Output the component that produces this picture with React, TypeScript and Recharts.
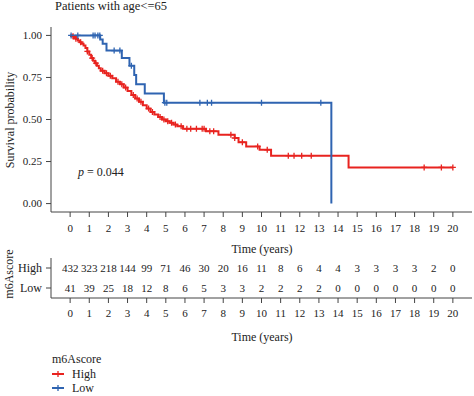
import { ComposedChart, Line, Scatter, XAxis, YAxis } from "recharts";

const RED = "#e8231f";
const BLUE = "#2f64b1";
const AXIS = "#444";
const FONT = "'Liberation Serif', 'DejaVu Serif', serif";

const years = Array.from({ length: 21 }, (_, i) => i);

// High m6Ascore: step points (time in years, survival probability)
const highTimes = [0, 0.1, 0.2, 0.3, 0.4, 0.5, 0.6, 0.7, 0.8, 0.9, 1.0, 1.1, 1.2, 1.3, 1.4, 1.5, 1.6, 1.8, 2.0, 2.2, 2.4, 2.6, 2.8, 3.0, 3.2, 3.4, 3.6, 3.8, 4.0, 4.2, 4.4, 4.6, 4.8, 5.0, 5.2, 5.4, 5.6, 5.9, 7.1, 7.75, 8.6, 8.8, 9.2, 9.9, 10.5, 14.55, 20];
const highSurv = [1.0, 0.995, 0.99, 0.98, 0.97, 0.96, 0.95, 0.94, 0.925, 0.905, 0.885, 0.865, 0.85, 0.835, 0.82, 0.805, 0.79, 0.775, 0.76, 0.745, 0.725, 0.71, 0.69, 0.67, 0.645, 0.625, 0.605, 0.585, 0.565, 0.545, 0.53, 0.515, 0.5, 0.49, 0.48, 0.47, 0.46, 0.445, 0.43, 0.41, 0.39, 0.365, 0.34, 0.32, 0.285, 0.215, 0.215];
const highCensor = [0.15, 0.3, 0.55, 0.9, 1.15, 1.35, 1.7, 1.9, 2.1, 2.5, 2.7, 2.9, 3.3, 3.5, 3.7, 4.1, 4.3, 4.7, 4.9, 5.1, 5.3, 5.5, 5.8, 6.1, 6.3, 6.6, 6.9, 7.0, 7.3, 7.5, 8.4, 8.6, 9.0, 9.8, 10.3, 11.4, 11.7, 12.1, 12.6, 18.5, 19.4, 20.0];

// Low m6Ascore
const lowTimes = [0, 1.57, 1.7, 1.9, 2.7, 3.1, 3.35, 3.45, 3.9, 4.9, 13.65];
const lowSurv = [1.0, 0.975, 0.95, 0.91, 0.865, 0.82, 0.765, 0.71, 0.655, 0.6, 0.0];
const lowCensor = [0.05, 0.4, 1.2, 1.3, 1.45, 1.55, 2.3, 2.6, 3.2, 4.95, 5.05, 6.78, 7.17, 7.39, 10.0, 13.1];

// number at risk
const highRisk = [432, 323, 218, 144, 99, 71, 46, 30, 20, 16, 11, 8, 6, 4, 4, 3, 3, 3, 3, 2, 0];
const lowRisk = [41, 39, 25, 18, 12, 8, 6, 5, 3, 3, 2, 2, 2, 2, 0, 0, 0, 0, 0, 0, 0];

const groups = ["High", "Low"];
const pValue = "0.044";

const toSteps = (times: number[], surv: number[]) => times.map((t, i) => ({ t, s: surv[i] }));

function survAt(times: number[], surv: number[], t: number) {
  let s = surv[0];
  for (let i = 0; i < times.length; i++) {
    if (times[i] <= t) s = surv[i];
  }
  return s;
}

const highData = toSteps(highTimes, highSurv);
const lowData = toSteps(lowTimes, lowSurv);
const highCensorData = highCensor.map((t) => ({ t, s: survAt(highTimes, highSurv, t) }));
const lowCensorData = lowCensor.map((t) => ({ t, s: survAt(lowTimes, lowSurv, t) }));

const riskData = [
  ...years.map((t, i) => ({ t, y: 1.5, n: highRisk[i] })),
  ...years.map((t, i) => ({ t, y: 0.5, n: lowRisk[i] })),
];

function Cross(color: string) {
  return (props: any) => {
    const { cx, cy } = props;
    return (
      <path
        d={`M${cx - 3},${cy}h6M${cx},${cy - 3}v6`}
        stroke={color}
        strokeWidth={1.3}
        fill="none"
      />
    );
  };
}

function RiskText(props: any) {
  const { cx, cy, payload } = props;
  return (
    <text x={cx} y={cy} textAnchor="middle" dominantBaseline="central" fontSize={11} fill="#222">
      {payload.n}
    </text>
  );
}

const tickStyle = { fill: "#222", fontSize: 11, fontFamily: FONT };

export default function App() {
  return (
    <div style={{ position: "absolute", left: 0, top: 0, width: 474, height: 396, background: "#fff", fontFamily: FONT }}>
      <ComposedChart
        width={474}
        height={262}
        margin={{ top: 27, right: 2, bottom: 0, left: 0 }}
        style={{ position: "absolute", left: 0, top: 0 }}
      >
        <XAxis
          type="number"
          dataKey="t"
          domain={[-1, 21]}
          ticks={years}
          interval={0}
          tickSize={5}
          tickMargin={7}
          height={50}
          stroke={AXIS}
          tick={tickStyle}
          allowDataOverflow
        />
        <YAxis
          type="number"
          dataKey="s"
          domain={[-0.05, 1.05]}
          ticks={[0, 0.25, 0.5, 0.75, 1]}
          tickFormatter={(v) => Number(v).toFixed(2)}
          width={51}
          tickSize={5}
          tickMargin={4}
          stroke={AXIS}
          tick={tickStyle}
          allowDataOverflow
        />
        <Line data={highData} dataKey="s" type="stepAfter" stroke={RED} strokeWidth={2} dot={false} isAnimationActive={false} />
        <Line data={lowData} dataKey="s" type="stepAfter" stroke={BLUE} strokeWidth={2} dot={false} isAnimationActive={false} />
        <Scatter data={highCensorData} dataKey="s" shape={Cross(RED)} isAnimationActive={false} />
        <Scatter data={lowCensorData} dataKey="s" shape={Cross(BLUE)} isAnimationActive={false} />
      </ComposedChart>

      <ComposedChart
        width={474}
        height={100}
        margin={{ top: 8, right: 2, bottom: 0, left: 0 }}
        style={{ position: "absolute", left: 0, top: 250 }}
      >
        <XAxis
          type="number"
          dataKey="t"
          domain={[-1, 21]}
          ticks={years}
          interval={0}
          tickSize={5}
          tickMargin={6}
          height={52}
          stroke={AXIS}
          tick={tickStyle}
        />
        <YAxis
          type="number"
          dataKey="y"
          domain={[0, 2]}
          ticks={[0.5, 1.5]}
          tickFormatter={(v) => (v > 1 ? groups[0] : groups[1])}
          width={51}
          tickSize={5}
          tickMargin={4}
          stroke={AXIS}
          tick={{ ...tickStyle, fontSize: 12 }}
        />
        <Scatter data={riskData} dataKey="y" shape={RiskText} isAnimationActive={false} />
      </ComposedChart>

      <svg width={474} height={396} style={{ position: "absolute", left: 0, top: 0, pointerEvents: "none" }}>
        <text x={55} y={10} fontSize={12.5} fill="#222">Patients with age&lt;=65</text>
        <text transform="translate(10,120) rotate(-90)" textAnchor="middle" dominantBaseline="central" fontSize={12} fill="#222">
          Survival probability
        </text>
        <text transform="translate(9,274) rotate(-90)" textAnchor="middle" dominantBaseline="central" fontSize={12} fill="#222">
          m6Ascore
        </text>
        <text x={262} y={249} textAnchor="middle" dominantBaseline="central" fontSize={12} fill="#222">Time (years)</text>
        <text x={262} y={337} textAnchor="middle" dominantBaseline="central" fontSize={12} fill="#222">Time (years)</text>
        <text x={78} y={176} fontSize={12} fill="#222">
          <tspan fontStyle="italic">p</tspan> = {pValue}
        </text>
        <text x={52} y={363} fontSize={12} fill="#222">m6Ascore</text>
        {groups.map((g, i) => {
          const y = 374 + i * 14;
          const c = i === 0 ? RED : BLUE;
          return (
            <g key={g}>
              <line x1={52} x2={64} y1={y} y2={y} stroke={c} strokeWidth={2} />
              <path d={`M55,${y}h6M58,${y - 3}v6`} stroke={c} strokeWidth={1.3} />
              <text x={72} y={y} dominantBaseline="central" fontSize={12} fill="#222">{g}</text>
            </g>
          );
        })}
      </svg>
    </div>
  );
}
